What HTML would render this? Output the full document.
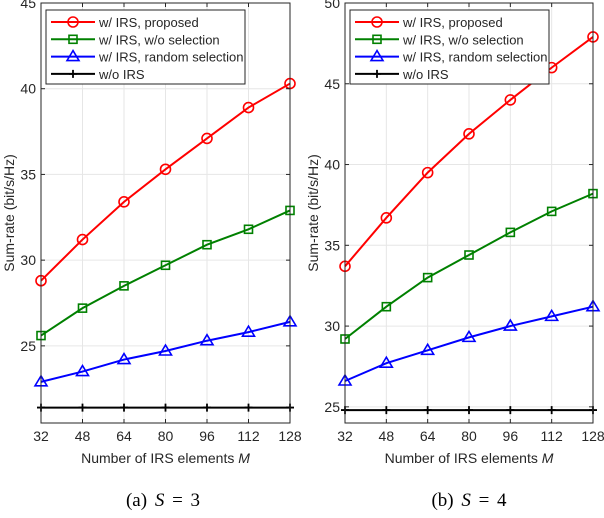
<!DOCTYPE html>
<html><head><meta charset="utf-8">
<style>
body{margin:0;background:#fff;width:604px;height:518px;overflow:hidden}
svg{display:block}
text{font-family:"Liberation Sans",sans-serif;fill:#262626}
</style></head>
<body>
<svg id="fig" width="604" height="518"></svg>
<script>
const categories=[32,48,64,80,96,112,128];
const aProposed=[28.8,31.2,33.4,35.3,37.1,38.9,40.3];
const aNoSel=[25.6,27.2,28.5,29.7,30.9,31.8,32.9];
const aRandom=[22.9,23.5,24.2,24.7,25.3,25.8,26.4];
const aNoIRS=[21.4,21.4,21.4,21.4,21.4,21.4,21.4];
const bProposed=[33.7,36.7,39.5,41.9,44.0,46.0,47.9];
const bNoSel=[29.2,31.2,33.0,34.4,35.8,37.1,38.2];
const bRandom=[26.6,27.7,28.5,29.3,30.0,30.6,31.2];
const bNoIRS=[24.8,24.8,24.8,24.8,24.8,24.8,24.8];
const aTicks=[25,30,35,40,45];
const bTicks=[25,30,35,40,45,50];
const legendLabels=["w/ IRS, proposed","w/ IRS, w/o selection","w/ IRS, random selection","w/o IRS"];

const NS="http://www.w3.org/2000/svg";
const svg=document.getElementById('fig');
function mk(tag,attrs,parent){const e=document.createElementNS(NS,tag);for(const k in attrs)e.setAttribute(k,attrs[k]);(parent||svg).appendChild(e);return e;}

function drawPanel(id,L,R,T,B,ymin,ymax,ticks,series,caption,capX){
  const g=mk('g',{});
  
  
  const xs=v=>L+(v-32)/(128-32)*(R-L);
  const ys=v=>B-(v-ymin)/(ymax-ymin)*(B-T);
  categories.forEach(c=>{const l=mk('line',{x1:xs(c),x2:xs(c),y1:T,y2:B,stroke:'#e6e6e6','stroke-width':1},g);
    
    });
  ticks.forEach(t=>{const l=mk('line',{x1:L,x2:R,y1:ys(t),y2:ys(t),stroke:'#e6e6e6','stroke-width':1},g);
    
    });
  const colors=['#ff0000','#008000','#0000ff','#000000'];
  const markers=['circle','square','triangle','plus'];
  series.forEach((s,i)=>{
    const pts=categories.map((c,j)=>xs(c)+','+ys(s[j])).join(' ');
    const pl=mk('polyline',{points:pts,fill:'none',stroke:colors[i],'stroke-width':2},g);
    
    
    categories.forEach((c,j)=>drawMarker(g,markers[i],xs(c),ys(s[j]),colors[i]));
  });
  const bx=mk('rect',{x:L,y:T,width:R-L,height:B-T,fill:'none',stroke:'#262626','stroke-width':1},g);
  
  
  categories.forEach(c=>{
    mk('line',{x1:xs(c),x2:xs(c),y1:B,y2:B-4,stroke:'#262626'},g);
    mk('line',{x1:xs(c),x2:xs(c),y1:T,y2:T+4,stroke:'#262626'},g);
    const t=mk('text',{x:xs(c),y:B+18,'text-anchor':'middle','font-size':14},g);t.textContent=c;
    
    
  });
  ticks.forEach(v=>{
    mk('line',{x1:L,x2:L+4,y1:ys(v),y2:ys(v),stroke:'#262626'},g);
    mk('line',{x1:R,x2:R-4,y1:ys(v),y2:ys(v),stroke:'#262626'},g);
    const t=mk('text',{x:L-5,y:ys(v)+5,'text-anchor':'end','font-size':14},g);t.textContent=v;
    
    
  });
  const yl=mk('text',{x:0,y:0,'text-anchor':'middle','font-size':14,transform:`translate(${L-27},${(T+B)/2}) rotate(-90)`},g);
  yl.textContent='Sum-rate (bit/s/Hz)';
  
  
  const xl=mk('text',{x:(L+R)/2,y:B+40,'text-anchor':'middle','font-size':14},g);
  xl.innerHTML='Number of IRS elements <tspan font-style="italic">M</tspan>';
  
  
  const lg=mk('g',{},g);
  
  
  const lx=L+5,ly=10;
  mk('rect',{x:lx,y:ly,width:199,height:74,fill:'#fff',stroke:'#262626','stroke-width':1},lg);
  legendLabels.forEach((lab,i)=>{
    const yy=ly+12+i*17.3;
    const e=mk('g',{},lg);
    
    
    mk('line',{x1:lx+5,x2:lx+49,y1:yy,y2:yy,stroke:colors[i],'stroke-width':2},e);
    drawMarker(e,markers[i],lx+27,yy,colors[i]);
    const t=mk('text',{x:lx+53,y:yy+5,'font-size':13},e);t.textContent=lab;
  });
  const cap=mk('text',{x:capX,y:506,'text-anchor':'middle','font-size':19},g);
  cap.setAttribute('style','font-family:"Liberation Serif",serif;fill:#000;word-spacing:3px');
  cap.innerHTML=caption;
  
  
}
function drawMarker(g,type,x,y,c){
  let m;
  if(type==='circle')m=mk('circle',{cx:x,cy:y,r:5,fill:'none',stroke:c,'stroke-width':1.6},g);
  else if(type==='square')m=mk('rect',{x:x-4,y:y-4,width:8,height:8,fill:'none',stroke:c,'stroke-width':1.6},g);
  else if(type==='triangle')m=mk('polygon',{points:`${x},${y-6} ${x-6},${y+4} ${x+6},${y+4}`,fill:'none',stroke:c,'stroke-width':1.6},g);
  else m=mk('path',{d:`M${x-4},${y}H${x+4}M${x},${y-4}V${y+4}`,stroke:c,'stroke-width':1.8},g);
  
  
}
drawPanel('panel-a',41,290,3,423,20.5,45,aTicks,[aProposed,aNoSel,aRandom,aNoIRS],'(a) <tspan font-style="italic">S</tspan> = 3',163);
drawPanel('panel-b',345,593,3,423,24,50,bTicks,[bProposed,bNoSel,bRandom,bNoIRS],'(b) <tspan font-style="italic">S</tspan> = 4',469);
</script>
</body></html>
